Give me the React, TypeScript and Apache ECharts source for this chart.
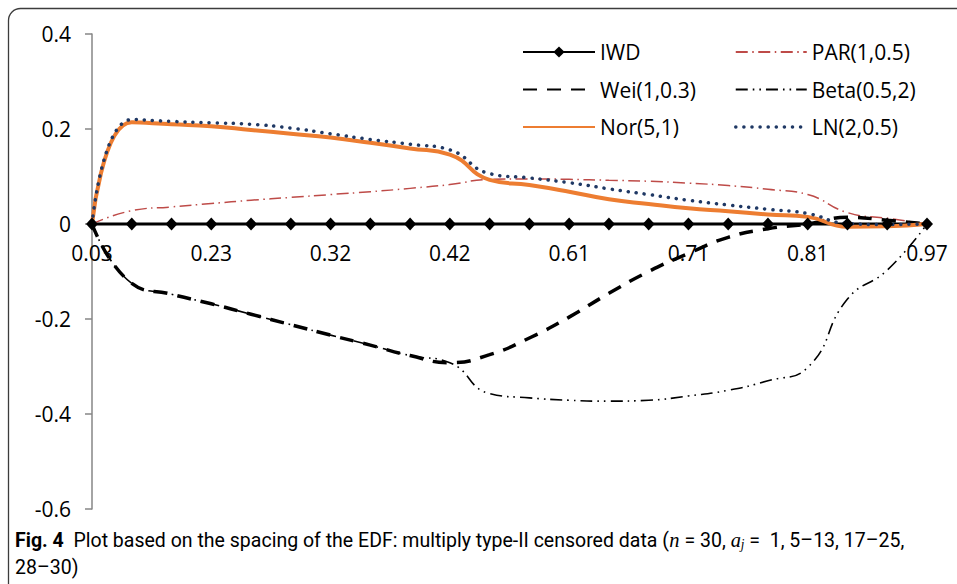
import React, { useEffect, useRef } from 'react';
import * as echarts from 'echarts';

const categories = ['0.03', '0.16', '0.19', '0.23', '0.26', '0.29', '0.32', '0.35', '0.39', '0.42', '0.55', '0.58', '0.61', '0.65', '0.68', '0.71', '0.74', '0.77', '0.81', '0.90', '0.94', '0.97'];

const iwd = [0, 0, 0, 0, 0, 0, 0, 0, 0, 0, 0, 0, 0, 0, 0, 0, 0, 0, 0, 0, 0, 0];
const par = [0, 0.028, 0.036, 0.043, 0.05, 0.056, 0.062, 0.068, 0.075, 0.083, 0.094, 0.095, 0.094, 0.092, 0.09, 0.086, 0.081, 0.073, 0.062, 0.024, 0.012, 0];
const wei = [0, -0.125, -0.148, -0.168, -0.19, -0.212, -0.234, -0.255, -0.277, -0.292, -0.275, -0.24, -0.196, -0.146, -0.1, -0.062, -0.028, -0.01, 0, 0.014, 0.008, 0];
const beta = [0, -0.125, -0.148, -0.168, -0.19, -0.212, -0.234, -0.255, -0.277, -0.292, -0.357, -0.366, -0.371, -0.373, -0.371, -0.362, -0.35, -0.33, -0.302, -0.158, -0.097, 0];
const nor = [0, 0.214, 0.21, 0.206, 0.198, 0.19, 0.182, 0.171, 0.159, 0.146, 0.093, 0.082, 0.068, 0.052, 0.042, 0.033, 0.027, 0.02, 0.015, -0.006, -0.005, 0];
const ln = [0, 0.22, 0.216, 0.213, 0.21, 0.202, 0.19, 0.178, 0.168, 0.156, 0.106, 0.097, 0.087, 0.074, 0.062, 0.05, 0.04, 0.031, 0.022, 0.001, -0.001, 0];

const legendLeft = ['IWD', 'Wei(1,0.3)', 'Nor(5,1)'];
const legendRight = ['PAR(1,0.5)', 'Beta(0.5,2)', 'LN(2,0.5)'];

const captionLine1 = '{b|Fig. 4}  Plot based on the spacing of the EDF: multiply type-II censored data ({i|n} = 30, {i|a}{sub|j} =  1, 5–13, 17–25,';
const captionLine2 = '28–30)';

const FONT = '"Open Sans", sans-serif';
const CAP_FONT = 'Roboto, sans-serif';

export default function App() {
  const ref = useRef<HTMLDivElement>(null);
  useEffect(() => {
    const chart = echarts.init(ref.current!, null, { renderer: 'svg' });
    const legendText = { fontSize: 21, lineHeight: 24, color: '#000', fontFamily: FONT };
    const legendBase = {
      orient: 'vertical',
      padding: 0,
      itemWidth: 72,
      itemHeight: 14,
      itemGap: 13.5,
      top: 40,
      selectedMode: false,
      textStyle: legendText,
    };
    const noSym = { opacity: 0 };
    const capRich = {
      b: { fontFamily: CAP_FONT, fontWeight: 'bold', fontSize: 21, fill: '#000' },
      i: { fontFamily: '"Liberation Serif", serif', fontStyle: 'italic', fontSize: 22, fill: '#000' },
      sub: { fontFamily: '"Liberation Serif", serif', fontStyle: 'italic', fontSize: 14, fill: '#000', verticalAlign: 'bottom' },
    };
    const gridTop = 34;
    const gridBottom = 75;
    const yMin = -0.6;
    const yMax = 0.4;
    const plotH = 584 - gridTop - gridBottom;
    const zeroOffset = -(plotH * (0 - yMin)) / (yMax - yMin);
    chart.setOption({
      animation: false,
      backgroundColor: '#fff',
      textStyle: { fontFamily: FONT },
      grid: { left: 92, right: 30, top: gridTop, bottom: gridBottom, containLabel: false },
      xAxis: {
        type: 'category',
        data: categories,
        boundaryGap: false,
        position: 'bottom',
        offset: zeroOffset,
        axisLine: { onZero: false, lineStyle: { color: '#868686', width: 1.5 } },
        axisTick: { show: false },
        axisLabel: { interval: 2, margin: 18, fontSize: 21, color: '#000', fontFamily: FONT },
        splitLine: { show: false },
      },
      yAxis: {
        type: 'value',
        min: yMin,
        max: yMax,
        interval: 0.2,
        axisLine: { show: true, lineStyle: { color: '#868686', width: 1.5 } },
        axisTick: { show: true, length: 7, lineStyle: { color: '#868686', width: 1.5 } },
        axisLabel: {
          margin: 21,
          fontSize: 21,
          color: '#000',
          fontFamily: FONT,
          formatter: (v: number) => String(Number(v.toFixed(1))),
        },
        splitLine: { show: false },
      },
      legend: [
        {
          ...legendBase,
          left: 522,
          data: [
            { name: legendLeft[0] },
            { name: legendLeft[1], itemStyle: noSym },
            { name: legendLeft[2], itemStyle: noSym },
          ],
        },
        {
          ...legendBase,
          left: 734,
          itemWidth: 71,
          data: [
            { name: legendRight[0], itemStyle: noSym },
            { name: legendRight[1], itemStyle: noSym },
            { name: legendRight[2], itemStyle: noSym, lineStyle: { cap: 'round', width: 3.5, type: [0.1, 8] } },
          ],
        },
      ],
      series: [
        {
          name: 'IWD',
          type: 'line',
          data: iwd,
          symbol: 'diamond',
          symbolSize: [12, 13],
          showSymbol: true,
          lineStyle: { color: '#000', width: 3 },
          itemStyle: { color: '#000' },
        },
        {
          name: 'PAR(1,0.5)',
          type: 'line',
          data: par,
          symbol: 'none',
          smooth: 0.5,
          lineStyle: { color: '#BE4B48', width: 1.5, type: [12, 4.5, 1.5, 4.5] },
          itemStyle: { color: '#BE4B48' },
        },
        {
          name: 'Wei(1,0.3)',
          type: 'line',
          data: wei,
          symbol: 'none',
          smooth: 0.5,
          lineStyle: { color: '#000', width: 3.5, type: [14, 10] },
          itemStyle: { color: '#000' },
        },
        {
          name: 'Beta(0.5,2)',
          type: 'line',
          data: beta,
          symbol: 'none',
          smooth: 0.5,
          lineStyle: { color: '#000', width: 1.6, type: [12, 5, 1.6, 5, 1.6, 5] },
          itemStyle: { color: '#000' },
        },
        {
          name: 'Nor(5,1)',
          type: 'line',
          data: nor,
          symbol: 'none',
          smooth: 0.5,
          lineStyle: { color: '#ED7D31', width: 4 },
          itemStyle: { color: '#ED7D31' },
        },
        {
          name: 'LN(2,0.5)',
          type: 'line',
          data: ln,
          symbol: 'none',
          smooth: 0.5,
          lineStyle: { color: '#1F3864', width: 3.5, type: [0.1, 8], cap: 'round' },
          itemStyle: { color: '#1F3864' },
        },
      ],
      graphic: [
        {
          type: 'rect',
          silent: true,
          z: -10,
          shape: { x: 8.5, y: 8.5, width: 1000, height: 700, r: 12 },
          style: { fill: 'none', stroke: '#3c3c3c', lineWidth: 1.3 },
        },
        {
          type: 'text',
          x: 15,
          y: 540,
          scaleX: 0.93,
          style: {
            text: captionLine1,
            rich: capRich,
            fontFamily: CAP_FONT,
            fontSize: 21,
            fill: '#000',
            verticalAlign: 'middle',
          },
        },
        {
          type: 'text',
          x: 15,
          y: 567,
          scaleX: 0.93,
          style: {
            text: captionLine2,
            fontFamily: CAP_FONT,
            fontSize: 21,
            fill: '#000',
            verticalAlign: 'middle',
          },
        },
      ],
    });
    return () => chart.dispose();
  }, []);
  return (
    <div
      ref={ref}
      style={{ position: 'fixed', left: 0, top: 0, width: 957, height: 584, background: '#fff' }}
    />
  );
}
